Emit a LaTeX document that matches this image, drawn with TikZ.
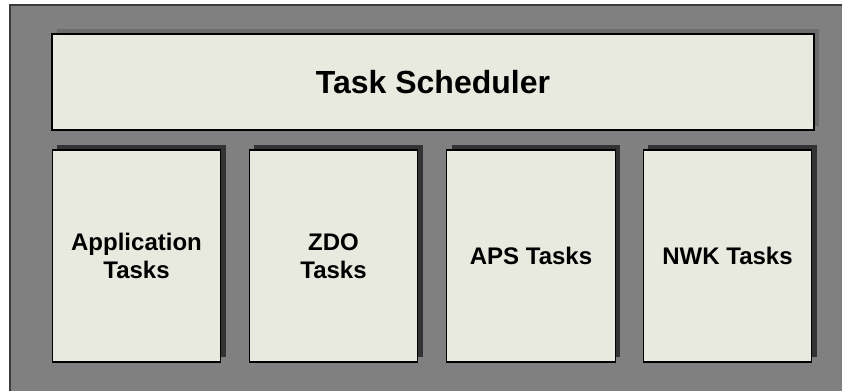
\documentclass[tikz,border=0pt]{standalone}
\usepackage{fontspec}
\setmainfont{Liberation Sans}

\definecolor{panel}{RGB}{233,234,223}
\definecolor{backdrop}{RGB}{128,128,128}
\definecolor{rim}{RGB}{60,60,60}
\definecolor{softshade}{RGB}{108,108,108}
\definecolor{hardshade}{RGB}{51,51,51}

\begin{document}
\begin{tikzpicture}[x=0.75pt,y=-0.75pt,
    box/.style={draw=black, line width=0.8pt, fill=panel, inner sep=0pt,
      align=center, font=\bfseries\fontsize{18}{21}\selectfont,
      minimum width=126.4pt, minimum height=159pt}]
  \useasboundingbox (0,0) rectangle (842,390);
  \clip (0,0) rectangle (842,390);
  % backdrop
  \filldraw[fill=backdrop, draw=rim, line width=1.1pt] (10,5) rectangle (860,410);
  % scheduler bar
  \fill[softshade] (57,29) rectangle (819,126);
  \node[box, minimum width=571.5pt, minimum height=72pt,
    font=\bfseries\fontsize{24}{28}\selectfont] (sched) at (433,82) {Task Scheduler};
  % task boxes
  \foreach \x/\name/\txt in {136.5/app/Application\\Tasks, 333.5/zdo/ZDO\\Tasks,
      531/aps/APS Tasks, 727.5/nwk/NWK Tasks} {
    \fill[hardshade] (\x-79.25,145) rectangle (\x+89.25,357);
    \node[box] (\name) at (\x,256) {\txt};
  }
\end{tikzpicture}
\end{document}
